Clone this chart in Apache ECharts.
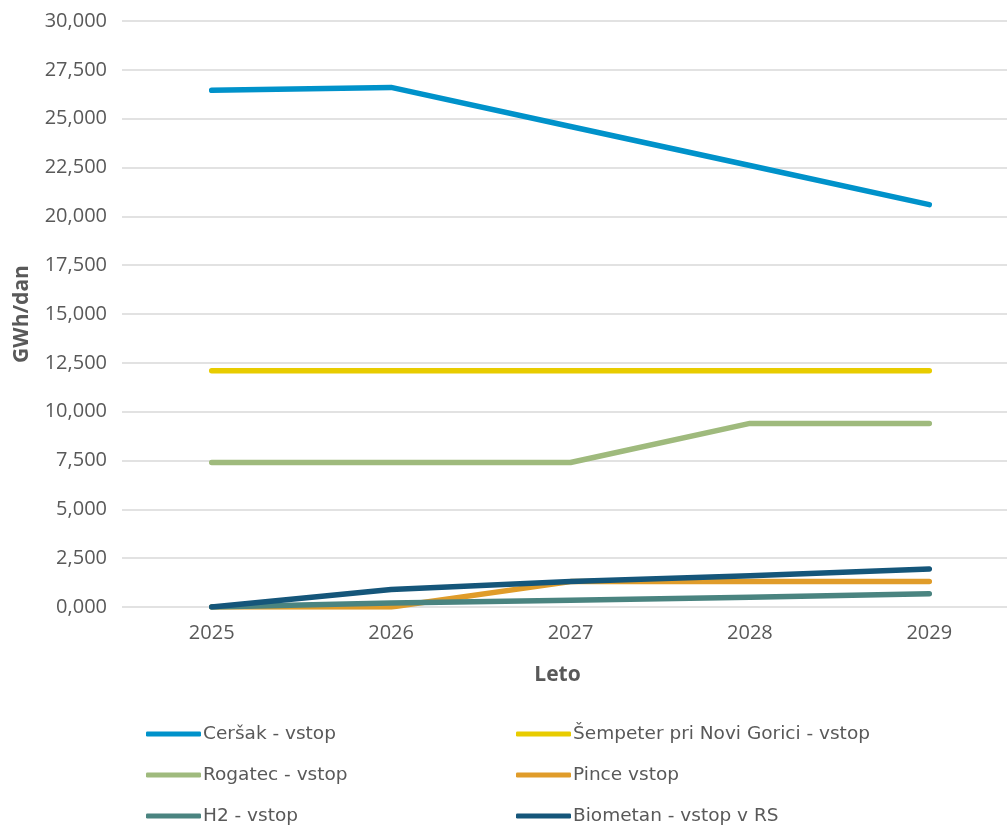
<!DOCTYPE html>
<html><head><meta charset="utf-8">
<script src="https://cdn.jsdelivr.net/npm/echarts@6/dist/echarts.min.js"></script>
<style>html,body{margin:0;padding:0;background:#fff}#c{width:1007px;height:827px}</style>
</head><body><div id="c"></div>
<script>
const years = ['2025','2026','2027','2028','2029'];
const cersak = [26.45, 26.6, 24.6, 22.6, 20.6];
const sempeter = [12.1, 12.1, 12.1, 12.1, 12.1];
const rogatec = [7.4, 7.4, 7.4, 9.4, 9.4];
const pince = [0, 0, 1.3, 1.3, 1.3];
const h2 = [0, 0.2, 0.35, 0.5, 0.68];
const biometan = [0, 0.9, 1.3, 1.6, 1.95];
const names = ['Ceršak - vstop','Šempeter pri Novi Gorici - vstop','Rogatec - vstop','Pince vstop','H2 - vstop','Biometan - vstop v RS'];
const colors = ['#0092CA','#E8CC00','#9FBA7D','#E09C2A','#4A8480','#15567A'];
const data = [cersak, sempeter, rogatec, pince, h2, biometan];
const font = 'Open Sans';
const chart = echarts.init(document.getElementById('c'));
const legendPos = [[146,722],[516,722],[146,763],[516,763],[146,804],[516,804]];
const legends = names.map((n,i)=>({
  left: legendPos[i][0], top: legendPos[i][1], padding:0, data:[n],
  icon:'roundRect', itemWidth:55, itemHeight:5,
  textStyle:{fontFamily:'DejaVu Sans', fontSize:18.5, color:'#595959', lineHeight:24, padding:[0,0,0,-3]}
}));
chart.setOption({
  animation:false,
  color: colors,
  grid:{left:122, top:21, right:-12, bottom:220, outerBoundsMode:'none', containLabel:false},
  legend: legends,
  xAxis:{type:'category', data:years, boundaryGap:true,
    name:'Leto', nameLocation:'middle', nameGap:58,
    nameTextStyle:{fontFamily:font, fontSize:21, fontWeight:'bold', color:'#595959', padding:[0,26,0,0]},
    axisLine:{show:false}, axisTick:{show:false},
    axisLabel:{fontFamily:font, fontSize:20, color:'#595959', margin:16}},
  yAxis:{type:'value', min:0, max:30, interval:2.5,
    name:'GWh/dan', nameLocation:'middle', nameGap:89,
    nameTextStyle:{fontFamily:font, fontSize:21, fontWeight:'bold', color:'#595959'},
    axisLine:{show:false}, axisTick:{show:false},
    splitLine:{lineStyle:{color:'#D9D9D9', width:1.5}},
    axisLabel:{fontFamily:font, fontSize:20, color:'#595959', margin:15,
      formatter:v=>v.toFixed(3).replace('.',',')}},
  series: data.map((d,i)=>({
    name:names[i], type:'line', data:d, symbol:'none', lineStyle:{width:5.5, cap:'round', join:'round'}
  }))
});
</script></body></html>
